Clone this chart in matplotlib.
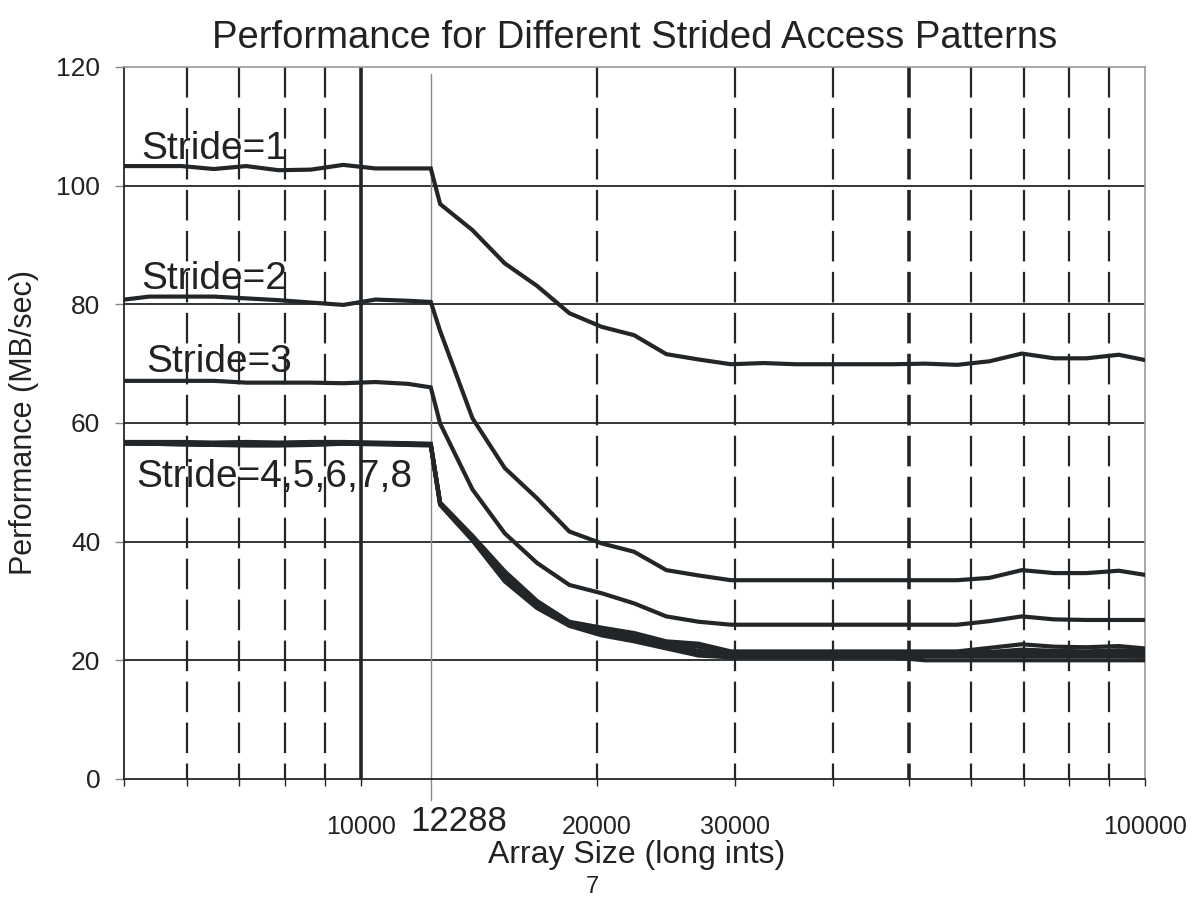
import numpy as np
import matplotlib.pyplot as plt
from matplotlib.transforms import blended_transform_factory

plt.rcParams['font.family'] = ['Liberation Sans', 'DejaVu Sans']

# array sizes (long ints) where the curves were sampled
sizes = [5000, 5378, 5913, 6501, 7148, 7860, 8642, 9503, 10448, 11487, 12288,
         12630, 13887, 15268, 16788, 18458, 20295, 22315, 24535, 26976, 29659,
         32611, 35857, 39425, 43349, 47662, 52404, 57622, 63346, 69652, 76579,
         84207, 92595, 100000]

# performance in MB/sec
stride1 = [103.3, 103.3, 103.3, 102.8, 103.3, 102.6, 102.7, 103.5, 102.9, 102.9, 102.9,
           96.9, 92.5, 86.9, 83.1, 78.5, 76.2, 74.8, 71.6, 70.7, 69.9,
           70.1, 69.9, 69.9, 69.9, 69.9, 70.0, 69.8, 70.4, 71.7, 70.9,
           70.9, 71.5, 70.6]
stride2 = [80.8, 81.3, 81.3, 81.3, 81.0, 80.7, 80.3, 79.9, 80.8, 80.6, 80.4,
           75.5, 60.8, 52.4, 47.3, 41.7, 39.7, 38.3, 35.2, 34.3, 33.5,
           33.5, 33.5, 33.5, 33.5, 33.5, 33.5, 33.5, 33.9, 35.2, 34.7,
           34.7, 35.1, 34.4]
stride3 = [67.1, 67.1, 67.1, 67.1, 66.8, 66.8, 66.8, 66.7, 66.9, 66.6, 66.0,
           59.9, 48.8, 41.4, 36.4, 32.7, 31.3, 29.6, 27.4, 26.5, 26.0,
           26.0, 26.0, 26.0, 26.0, 26.0, 26.0, 26.0, 26.6, 27.4, 26.9,
           26.8, 26.8, 26.8]
stride4 = [56.8, 56.8, 56.8, 56.7, 56.8, 56.7, 56.8, 56.8, 56.7, 56.6, 56.5,
           46.6, 41.0, 35.0, 30.0, 26.5, 25.5, 24.6, 23.2, 22.8, 21.5,
           21.5, 21.5, 21.5, 21.5, 21.5, 21.5, 21.5, 22.1, 22.7, 22.3,
           22.2, 22.4, 22.0]
stride5 = [56.7, 56.7, 56.6, 56.5, 56.6, 56.5, 56.6, 56.7, 56.6, 56.5, 56.4,
           46.5, 40.8, 34.6, 29.6, 26.3, 25.1, 24.2, 22.9, 22.3, 21.2,
           21.2, 21.2, 21.2, 21.2, 21.2, 21.2, 21.2, 21.4, 21.8, 21.6,
           21.5, 21.7, 21.5]
stride6 = [56.6, 56.5, 56.5, 56.4, 56.4, 56.3, 56.5, 56.6, 56.5, 56.4, 56.3,
           46.4, 40.6, 34.2, 29.4, 26.1, 24.8, 23.9, 22.6, 21.6, 20.9,
           20.9, 20.9, 20.9, 20.9, 20.9, 20.9, 20.9, 21.0, 21.3, 21.2,
           21.1, 21.3, 21.0]
stride7 = [56.6, 56.5, 56.4, 56.3, 56.3, 56.3, 56.4, 56.5, 56.5, 56.4, 56.3,
           46.3, 40.4, 33.8, 29.1, 26.0, 24.5, 23.5, 22.3, 21.2, 20.7,
           20.7, 20.7, 20.7, 20.7, 20.7, 20.7, 20.7, 20.7, 20.7, 20.7,
           20.7, 20.7, 20.6]
stride8 = [56.5, 56.5, 56.4, 56.3, 56.2, 56.2, 56.3, 56.5, 56.4, 56.3, 56.2,
           46.2, 40.2, 33.3, 28.8, 25.8, 24.2, 23.2, 22.0, 20.8, 20.5,
           20.5, 20.5, 20.5, 20.5, 20.5, 20.0, 20.0, 20.0, 20.0, 20.0,
           20.0, 20.0, 20.0]

line_col = '#222628'

fig = plt.figure(figsize=(11.92, 8.99), dpi=100)
ax = fig.add_axes([0.1044, 0.1335, 0.8562, 0.792])
ax.set_xscale('log')
ax.set_xlim(5000, 100000)
ax.set_ylim(0, 120)

# horizontal grid
for v in [20, 40, 60, 80, 100]:
    ax.axhline(v, color=line_col, lw=1.3, zorder=1)

# vertical grid, dashed from the top down
xt = blended_transform_factory(ax.transData, ax.transAxes)
for v in [6000, 7000, 8000, 9000, 20000, 30000, 40000, 50000, 60000, 70000, 80000, 90000]:
    lw = 2.6 if v == 50000 else 1.6
    ax.plot([v, v], [1, 0], transform=xt, color=line_col, lw=lw,
            dashes=(22 / lw, 7.5 / lw), zorder=1)
ax.plot([10000, 10000], [1, 0], transform=xt, color=line_col, lw=2.6, zorder=1)
ax.plot([12288, 12288], [0.99, -0.03], transform=xt, color='#888888', lw=1.0,
        zorder=1, clip_on=False)

for s in [stride8, stride7, stride6, stride5, stride4, stride3, stride2, stride1]:
    ax.plot(sizes, s, color=line_col, lw=3.0, solid_joinstyle='miter', zorder=3)

# ticks
ticks = [5000, 6000, 7000, 8000, 9000, 10000, 20000, 30000, 40000, 50000,
         60000, 70000, 80000, 90000, 100000]
ax.xaxis.set_minor_locator(plt.NullLocator())
ax.set_xticks(ticks)
ax.set_xticklabels(['', '', '', '', '', '10000', '20000', '30000', '', '', '',
                    '', '', '', '100000'])
ax.tick_params(axis='x', direction='out', length=5, width=1.0, color=line_col,
               labelsize=18, pad=21, labelcolor='#222222')
ax.set_yticks([0, 20, 40, 60, 80, 100, 120])
ax.tick_params(axis='y', direction='out', length=6.5, width=1.0, color='#888888',
               labelsize=19, pad=11, labelcolor='#222222')

ax.text(12288 * 1.087, -0.06, '12288', transform=xt, ha='center', va='center',
        fontsize=25, color='#222222')

for side in ['top', 'right']:
    ax.spines[side].set_color('#999999')
    ax.spines[side].set_linewidth(1.2)
for side in ['left', 'bottom']:
    ax.spines[side].set_color(line_col)
    ax.spines[side].set_linewidth(1.3)

# curve labels
lab = dict(transform=ax.transAxes, fontsize=28, color='#222222', va='baseline',
           ha='left', zorder=4)
ax.text(0.0169, 0.871, 'Stride=1', **lab)
ax.text(0.0169, 0.688, 'Stride=2', **lab)
ax.text(0.021, 0.571, 'Stride=3', **lab)
ax.text(0.012, 0.4105, 'Stride=4,5,6,7,8', **lab)

fig.text(0.532, 0.958, 'Performance for Different Strided Access Patterns',
         ha='center', va='center', fontsize=27.5, color='#222222')
ax.set_ylabel('Performance (MB/sec)', fontsize=22, color='#222222', labelpad=12)
fig.text(0.534, 0.049, 'Array Size (long ints)', ha='center', va='center',
         fontsize=23, color='#222222')
fig.text(0.497, 0.0067, '7', ha='center', va='baseline', fontsize=17, color='#222222')

plt.savefig('out.png', dpi=100)
